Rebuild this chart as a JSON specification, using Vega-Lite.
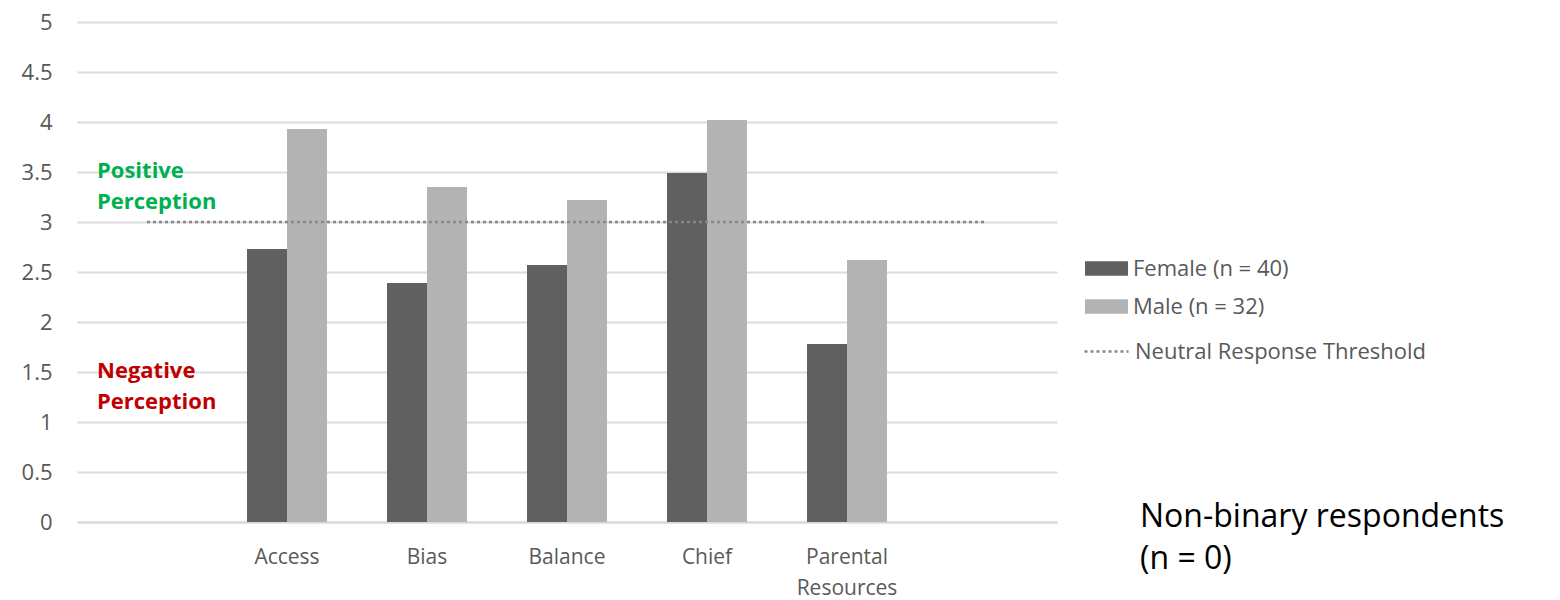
{
  "$schema": "https://vega.github.io/schema/vega-lite/v6.json",
  "width": 980,
  "height": 500,
  "autosize": "none",
  "padding": {"left": 77, "top": 22, "right": 503, "bottom": 78},
  "background": "white",
  "config": {
    "view": {"stroke": null},
    "font": "Open Sans",
    "axis": {"labelFont": "Open Sans", "labelColor": "#595959", "labelFontSize": 21},
    "legend": {"labelFont": "Open Sans", "labelColor": "#595959", "labelFontSize": 22, "labelLimit": 500}
  },
  "datasets": {
    "bars": [
      {"category": "Access", "gender": "Female (n = 40)", "score": 2.73},
      {"category": "Access", "gender": "Male (n = 32)", "score": 3.93},
      {"category": "Bias", "gender": "Female (n = 40)", "score": 2.39},
      {"category": "Bias", "gender": "Male (n = 32)", "score": 3.35},
      {"category": "Balance", "gender": "Female (n = 40)", "score": 2.57},
      {"category": "Balance", "gender": "Male (n = 32)", "score": 3.22},
      {"category": "Chief", "gender": "Female (n = 40)", "score": 3.49},
      {"category": "Chief", "gender": "Male (n = 32)", "score": 4.02},
      {"category": "Parental Resources", "gender": "Female (n = 40)", "score": 1.78},
      {"category": "Parental Resources", "gender": "Male (n = 32)", "score": 2.62}
    ],
    "threshold": [
      {"label": "Neutral Response Threshold", "score": 3}
    ],
    "zones": [
      {"text": "Positive\nPerception", "score": 3.51, "zone": "positive"},
      {"text": "Negative\nPerception", "score": 1.51, "zone": "negative"}
    ],
    "note": [
      {"text": "Non-binary respondents\n(n = 0)", "score": 0.05}
    ]
  },
  "layer": [
    {
      "data": {"name": "bars"},
      "mark": {"type": "bar"},
      "encoding": {
        "x": {
          "field": "category",
          "type": "nominal",
          "sort": null,
          "scale": {
            "domain": ["_L", "Access", "Bias", "Balance", "Chief", "Parental Resources", "_R"],
            "paddingInner": 0.4286,
            "paddingOuter": 0.2143
          },
          "axis": {
            "title": null,
            "labelAngle": 0,
            "ticks": false,
            "grid": false,
            "domain": true,
            "domainColor": "#d9d9d9",
            "domainWidth": 2,
            "labelPadding": 24,
            "labelLineHeight": 31,
            "labelExpr": "datum.label == '_L' || datum.label == '_R' ? '' : (datum.label == 'Parental Resources' ? ['Parental', 'Resources'] : datum.label)"
          }
        },
        "xOffset": {
          "field": "gender",
          "type": "nominal",
          "scale": {"domain": ["Female (n = 40)", "Male (n = 32)"], "paddingInner": 0, "paddingOuter": 0}
        },
        "y": {
          "field": "score",
          "type": "quantitative",
          "scale": {"domain": [0, 5], "nice": false},
          "axis": {
            "title": null,
            "values": [0, 0.5, 1, 1.5, 2, 2.5, 3, 3.5, 4, 4.5, 5],
            "format": ".1~f",
            "domain": false,
            "ticks": false,
            "grid": true,
            "gridColor": "#dcdcdc",
            "gridWidth": 2,
            "labelPadding": 25,
            "labelFontSize": 22
          }
        },
        "fill": {
          "field": "gender",
          "type": "nominal",
          "scale": {"domain": ["Female (n = 40)", "Male (n = 32)"], "range": ["#606060", "#b3b3b3"]},
          "legend": {
            "title": null,
            "orient": "none",
            "legendX": 1015,
            "legendY": 232,
            "symbolType": "M-1.5,-0.5H1.5V0.5H-1.5Z",
            "symbolSize": 823,
            "symbolStrokeWidth": 0,
            "labelOffset": 12,
            "rowPadding": 12
          }
        }
      }
    },
    {
      "data": {"name": "threshold"},
      "mark": {"type": "rule", "strokeWidth": 2.5, "color": "#888888"},
      "encoding": {
        "x": {"datum": "_L", "type": "nominal", "bandPosition": 0.5},
        "x2": {"datum": "_R", "bandPosition": 0.5},
        "y": {"field": "score", "type": "quantitative"},
        "strokeDash": {
          "field": "label",
          "type": "nominal",
          "scale": {"domain": ["Neutral Response Threshold"], "range": [[3, 3]]},
          "legend": {
            "title": null,
            "orient": "none",
            "legendX": 1006,
            "legendY": 306,
            "symbolType": "stroke",
            "symbolSize": 1936,
            "symbolStrokeColor": "#888888",
            "symbolStrokeWidth": 2.5,
            "labelOffset": 5
          }
        }
      }
    },
    {
      "data": {"name": "zones"},
      "mark": {"type": "text", "align": "left", "baseline": "middle", "dx": -50, "fontSize": 22, "fontWeight": "bold", "font": "Open Sans", "lineBreak": "\n", "lineHeight": 31},
      "encoding": {
        "x": {"datum": "_L", "type": "nominal"},
        "y": {"field": "score", "type": "quantitative"},
        "text": {"field": "text"},
        "color": {
          "field": "zone",
          "type": "nominal",
          "scale": {"domain": ["positive", "negative"], "range": ["#00b050", "#c00000"]},
          "legend": null
        }
      }
    },
    {
      "data": {"name": "note"},
      "mark": {"type": "text", "align": "left", "baseline": "middle", "dx": 153, "fontSize": 32, "font": "Open Sans", "color": "#000000", "lineBreak": "\n", "lineHeight": 42},
      "encoding": {
        "x": {"datum": "_R", "type": "nominal"},
        "y": {"field": "score", "type": "quantitative"},
        "text": {"field": "text"}
      }
    }
  ]
}
